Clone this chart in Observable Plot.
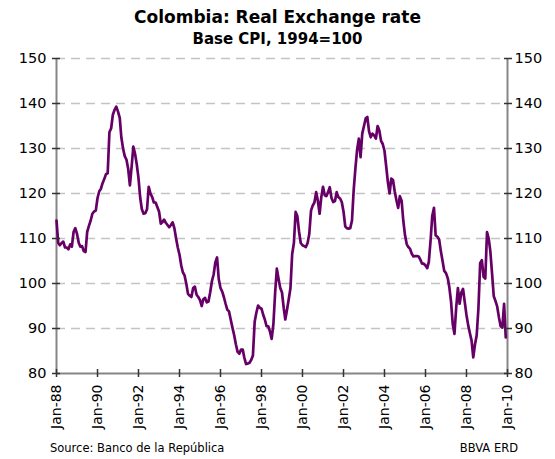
<!DOCTYPE html>
<html>
<head>
<meta charset="utf-8">
<script src="https://cdn.jsdelivr.net/npm/d3@7"></script>
<script src="https://cdn.jsdelivr.net/npm/@observablehq/plot@0.6"></script>
<style>
  body { margin: 0; background: #fff; font-family: "DejaVu Sans", sans-serif; }
  #wrap { position: relative; width: 555px; height: 459px; overflow: hidden; }
  #title { position: absolute; top: 7px; left: 0; width: 555px; text-align: center; font-weight: bold; font-size: 17px; line-height: 20px; color: #000; }
  #subtitle { position: absolute; top: 30px; left: 0; width: 555px; text-align: center; font-weight: bold; font-size: 15px; line-height: 18px; color: #000; }
  #source { position: absolute; top: 441px; left: 50px; font-size: 11.5px; line-height: 14px; color: #000; }
  #credit { position: absolute; top: 441px; right: 37px; font-size: 11.5px; line-height: 14px; color: #000; }
  #chart { position: absolute; top: 0; left: 0; }
</style>
</head>
<body>
<div id="wrap">
  <div id="chart"></div>
  <div id="title">Colombia: Real Exchange rate</div>
  <div id="subtitle">Base CPI, 1994=100</div>
  <div id="source">Source: Banco de la República</div>
  <div id="credit">BBVA ERD</div>
</div>
<script>
// Monthly real exchange rate index, Jan-1988 onward (Base CPI, 1994=100)
const startYear = 1988;
const rer = [
  // 1988
  114, 109, 108.5, 109, 109.3, 108, 108, 107.6, 108.7, 108.2, 111.5, 112.3,
  // 1989
  111, 109, 108.2, 108.3, 107.2, 107, 111.5, 112.8, 114, 115.5, 116, 116.2,
  // 1990
  119, 120.5, 121, 122.3, 123.2, 124.3, 124.5, 133.6, 134.5, 137.5, 138.6, 139.3,
  // 1991
  138.2, 136.8, 132.5, 130, 128.3, 127.5, 125.5, 121.8, 126, 130.4, 128.8, 126.5,
  // 1992
  123.4, 119, 116.5, 115.5, 115.6, 116.5, 121.5, 120, 119.2, 118, 118, 117,
  // 1993
  116, 113.3, 113.6, 114.2, 113.5, 113, 112.5, 113, 113.6, 112.3, 110, 108,
  // 1994
  106.4, 104, 102.5, 101.8, 100, 97.7, 97.3, 97, 99, 99.3, 97.5, 97,
  // 1995
  96.3, 95, 96.5, 96.8, 95.8, 96, 98, 100.5, 102, 104.7, 105.8, 101,
  // 1996
  99, 98.2, 97, 95.5, 94.2, 93.8, 92, 90.2, 88.5, 86.5, 84.8, 84.4,
  // 1997
  85.3, 85.3, 83.5, 82.1, 82.2, 82.4, 83, 84, 91.5, 93.5, 95.1, 94.6,
  // 1998
  94.4, 93, 92, 90.5, 90.5, 89.3, 87.7, 91, 98, 103.3, 101, 99,
  // 1999
  98, 94.5, 92, 94.2, 96.5, 99, 106.5, 109, 115.9, 115, 111.5, 109,
  // 2000
  108.5, 108.3, 108.1, 109, 111, 116.2, 117.3, 118, 120.3, 118.4, 115.5, 119.2,
  // 2001
  121.5, 119.6, 119.4, 120.3, 121.4, 119, 118.1, 118.3, 120.3, 119.2, 118.9, 118.1,
  // 2002
  116, 112.7, 112.3, 112.2, 112.3, 114, 120.7, 125.6, 129.8, 132.2, 128.1, 133.3,
  // 2003
  135, 136.7, 137, 133.8, 132.5, 133.3, 132.9, 132.2, 135, 134, 131.7, 131,
  // 2004
  129.5, 126, 122.6, 120, 123.3, 123, 120.5, 118.5, 116.8, 119.4, 118.4, 114,
  // 2005
  110.7, 108.7, 108.1, 107.7, 106.6, 106, 106.1, 106.1, 106, 105.3, 104.4, 104.4,
  // 2006
  104, 103.4, 104.8, 109.5, 115, 116.8, 110.7, 110.4, 109.8, 107.2, 105, 102.8,
  // 2007
  102.3, 101.2, 99.2, 96, 91, 88.8, 94.5, 99, 95.5, 98, 98.8, 95.9,
  // 2008
  93, 90.7, 89, 87.3, 83.6, 86.5, 88.5, 94.5, 104.5, 105.2, 101.5, 101.1,
  // 2009
  111.4, 109.9, 107.2, 102.2, 97.2, 96.1, 94.9, 92.5, 90.5, 90.2, 95.5, 88
];
const tickYears = [1988, 1990, 1992, 1994, 1996, 1998, 2000, 2002, 2004, 2006, 2008, 2010];
const tickLabels = ["Jan-88", "Jan-90", "Jan-92", "Jan-94", "Jan-96", "Jan-98", "Jan-00", "Jan-02", "Jan-04", "Jan-06", "Jan-08", "Jan-10"];
const yTicks = [80, 90, 100, 110, 120, 130, 140, 150];

const data = rer.map((v, i) => ({ date: new Date(Date.UTC(startYear, i, 1)), value: v }));
const xTicks = tickYears.map(y => new Date(Date.UTC(y, 0, 1)));
const xDomain = [xTicks[0], xTicks[xTicks.length - 1]];

const axisGray = "#868686";
const tickColor = "#333";

const chart = Plot.plot({
  width: 555,
  height: 459,
  marginLeft: 56,
  marginRight: 48,
  marginTop: 58,
  marginBottom: 86,
  style: { fontFamily: "DejaVu Sans, sans-serif", fontSize: "14px", color: "#000", background: "transparent", overflow: "visible" },
  x: { type: "utc", domain: xDomain, label: null },
  y: { domain: [yTicks[0], yTicks[yTicks.length - 1]], label: null },
  marks: [
    Plot.gridY(yTicks.slice(1), { stroke: "#c4c4c4", strokeOpacity: 1, strokeWidth: 1.5, strokeDasharray: "9,6" }),
    Plot.ruleX(xDomain, { stroke: axisGray, strokeWidth: 2 }),
    Plot.ruleY([yTicks[0]], { stroke: axisGray, strokeWidth: 2 }),
    Plot.line(data, { x: "date", y: "value", stroke: "#660066", strokeWidth: 2.7, strokeLinejoin: "round" }),
    // crossing tick marks
    Plot.axisY(yTicks, { anchor: "left", tickSize: 8, dx: 4, stroke: tickColor, strokeWidth: 1.5, tickFormat: () => "", label: null }),
    Plot.axisY(yTicks, { anchor: "right", tickSize: 8, dx: -4, stroke: tickColor, strokeWidth: 1.5, tickFormat: () => "", label: null }),
    Plot.axisX(xTicks, { anchor: "bottom", tickSize: 8, dy: -4, stroke: tickColor, strokeWidth: 1.5, tickFormat: () => "", label: null }),
    // labels
    Plot.axisY(yTicks, { anchor: "left", tickSize: 0, tickPadding: 10, fontSize: 14.5, fill: "#000", label: null }),
    Plot.axisY(yTicks, { anchor: "right", tickSize: 0, tickPadding: 7, fontSize: 14.5, fill: "#000", label: null }),
    Plot.axisX(xTicks, { anchor: "bottom", tickSize: 0, tickPadding: 11, tickRotate: -90, fontSize: 14, fill: "#000", label: null,
      tickFormat: (d, i) => tickLabels[tickYears.indexOf(d.getUTCFullYear())] })
  ]
});
document.getElementById("chart").appendChild(chart);
</script>
</body>
</html>
